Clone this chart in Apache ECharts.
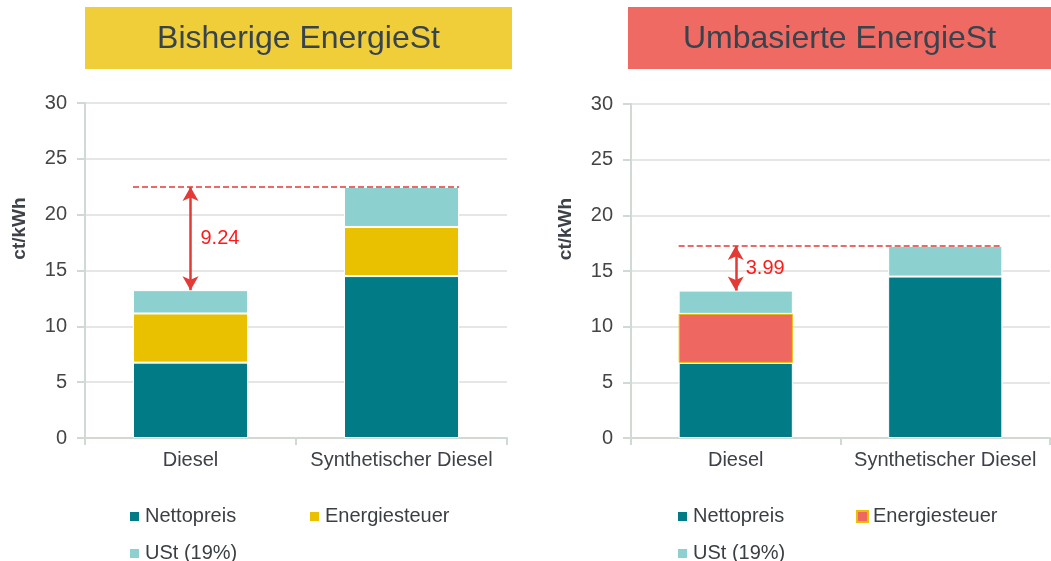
<!DOCTYPE html>
<html>
<head>
<meta charset="utf-8">
<script src="https://cdn.jsdelivr.net/npm/echarts@6/dist/echarts.min.js"></script>
<style>
  html, body { margin: 0; padding: 0; background: #fff; }
  #wrap { position: relative; width: 1051px; height: 561px; }
  #left { position: absolute; left: 0; top: 0; width: 540px; height: 561px; }
  #right { position: absolute; left: 540px; top: 0; width: 511px; height: 561px; }
</style>
</head>
<body>
<div id="wrap">
  <div id="left"></div>
  <div id="right"></div>
</div>
<script>
// data
const categories = ['Diesel', 'Synthetischer Diesel'];
const seriesNames = ['Nettopreis', 'Energiesteuer', 'USt (19%)'];
const yTicks = [0, 5, 10, 15, 20, 25, 30];

const bisherNetto = [6.75, 14.5];
const bisherSteuer = [4.4, 4.4];
const bisherUst = [2.09, 3.58];
const bisherDiff = '9.24';

const umbasNetto = [6.75, 14.5];
const umbasSteuer = [4.4, null];
const umbasUst = [2.09, 2.75];
const umbasDiff = '3.99';

const FONT = '"Liberation Sans", Arial, sans-serif';
const TEAL = '#017B86', YELLOW = '#E9C100', LIGHT = '#8DD0D0', RED = '#EE6760';
const AXIS = '#D0DAD3';
const BAR_FRAC = 0.545;

function total(a, b, c, i) {
  return (a[i] || 0) + (b[i] || 0) + (c[i] || 0);
}

function buildOption(cfg) {
  const top0 = total(cfg.netto, cfg.steuer, cfg.ust, 0);
  const top1 = total(cfg.netto, cfg.steuer, cfg.ust, 1);
  const x0 = 0.5 - BAR_FRAC / 2;
  const x1 = 1.5 + BAR_FRAC / 2;
  const barStyle = { borderColor: '#fff', borderWidth: 1 };
  return {
    animation: false,
    textStyle: { fontFamily: FONT },
    graphic: [
      { type: 'rect', shape: { x: cfg.boxX, y: 7, width: cfg.boxW, height: 62 }, style: { fill: cfg.boxColor } },
      { type: 'text', x: cfg.boxX + cfg.boxW / 2, y: 39,
        style: { text: cfg.title, fill: '#37434D', font: '32px ' + FONT, textAlign: 'center', textVerticalAlign: 'middle' } }
    ],
    grid: { left: cfg.gridLeft, top: cfg.gridTop, width: cfg.gridW, height: cfg.gridH },
    legend: {
      left: cfg.legendLeft, top: 498, width: 360,
      itemWidth: 11, itemHeight: 11, itemGap: 10,
      icon: 'rect',
      data: seriesNames,
      textStyle: { fontSize: 20, color: '#3A3F44', width: 153, lineHeight: 27, fontFamily: FONT }
    },
    xAxis: [{
      type: 'category', data: categories,
      axisLine: { lineStyle: { color: AXIS, width: 2 } },
      axisTick: { show: true, length: 7, lineStyle: { color: AXIS, width: 2 } },
      axisLabel: { fontSize: 20, color: '#3D4148', margin: 12, interval: 0 },
      splitLine: { show: false }
    }, {
      type: 'value', min: 0, max: 2, show: false
    }],
    yAxis: {
      type: 'value', min: yTicks[0], max: yTicks[yTicks.length - 1], interval: 5,
      name: 'ct/kWh', nameLocation: 'middle', nameRotate: 90, nameGap: 56,
      nameTextStyle: { fontSize: 19, fontWeight: 'bold', color: '#3D4148', padding: [0, 0, 0, 84] },
      axisLine: { show: true, lineStyle: { color: AXIS, width: 2 } },
      axisTick: { show: true, length: 8, lineStyle: { color: AXIS, width: 2 } },
      axisLabel: { fontSize: 20, color: '#454545', margin: 18 },
      splitLine: { lineStyle: { color: '#DCDFDD', width: 1.5 } }
    },
    series: [
      { name: seriesNames[0], type: 'bar', stack: 's', barWidth: (BAR_FRAC * 100) + '%',
        data: cfg.netto, itemStyle: Object.assign({ color: TEAL }, barStyle) },
      { name: seriesNames[1], type: 'bar', stack: 's',
        data: cfg.steuer, itemStyle: { color: cfg.steuerColor, borderColor: cfg.steuerBorder, borderWidth: 1 } },
      { name: seriesNames[2], type: 'bar', stack: 's',
        data: cfg.ust, itemStyle: Object.assign({ color: LIGHT }, barStyle),
        markLine: {
          silent: true, symbol: ['arrow', 'arrow'], symbolSize: [12, 14],
          lineStyle: { color: '#E53935', width: 2.5, type: 'solid' },
          label: { show: false },
          data: [[{ coord: [0, top1] }, { coord: [0, top0] }]]
        },
        markPoint: {
          silent: true, symbolSize: 0,
          label: { show: true, position: 'right', distance: 10, formatter: cfg.diff, color: '#FF1A1A', fontSize: 20 },
          data: [{ coord: [0, (top0 + top1) / 2] }]
        }
      },
      { name: 'ref', type: 'line', xAxisIndex: 1, symbol: 'none', silent: true,
        lineStyle: { color: '#E53935', width: 1.5, type: [6, 3] },
        data: [[x0, top1], [x1, top1]], z: 5 }
    ]
  };
}

const left = echarts.init(document.getElementById('left'));
left.setOption(buildOption({
  title: 'Bisherige EnergieSt', boxX: 85, boxW: 427, boxColor: '#F0CE3A',
  gridLeft: 85, gridTop: 103, gridW: 422, gridH: 335, legendLeft: 123,
  netto: bisherNetto, steuer: bisherSteuer, ust: bisherUst, diff: bisherDiff,
  steuerColor: YELLOW, steuerBorder: '#fff'
}));

const right = echarts.init(document.getElementById('right'));
right.setOption(buildOption({
  title: 'Umbasierte EnergieSt', boxX: 88, boxW: 423, boxColor: '#EE6A62',
  gridLeft: 91, gridTop: 104, gridW: 419, gridH: 334, legendLeft: 131,
  netto: umbasNetto, steuer: umbasSteuer, ust: umbasUst, diff: umbasDiff,
  steuerColor: RED, steuerBorder: YELLOW
}));
</script>
</body>
</html>
